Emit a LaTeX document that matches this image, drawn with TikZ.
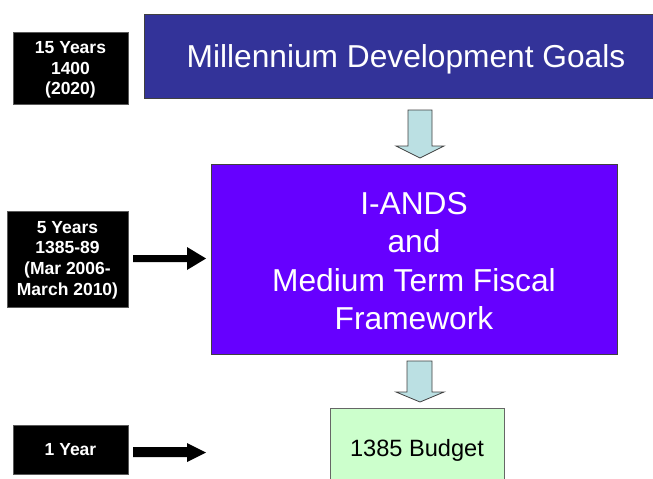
\documentclass[tikz,border=0pt]{standalone}
\usepackage{fontspec}
\setmainfont{Liberation Sans}
\definecolor{mdgblue}{HTML}{333399}
\definecolor{violetbox}{HTML}{6600FF}
\definecolor{greenbox}{HTML}{CCFFCC}
\definecolor{arrowblue}{HTML}{BBE0E3}
\definecolor{edgegray}{HTML}{404040}
\begin{document}
\begin{tikzpicture}[x=1pt,y=-1pt,
  yearbox/.style={fill=black, draw=gray!70!black, line width=0.6pt, inner sep=0pt},
  yeartext/.style={text=white, align=center, inner sep=0pt, font=\fontsize{17.5}{20.7}\selectfont\bfseries},
  bigbox/.style={draw=edgegray, line width=1pt, align=center, inner sep=0pt, text=white},
  blockarrow/.style={fill=arrowblue, draw=edgegray, line width=0.8pt, line join=miter},
  blackarrow/.style={fill=black, draw=none}]
\useasboundingbox (0,0) rectangle (653,479);
\clip (0,0) rectangle (653,479);
% year boxes
\node[yearbox, minimum width=115, minimum height=72] (y15) at (70.5,68) {};
\node[yeartext, yshift=-2pt] (t15) at (y15.center) {15 Years\\1400\\(2020)};
\node[yearbox, minimum width=121, minimum height=96] (y5) at (67.5,259) {};
\node[yeartext, yshift=-1pt] (t5) at (y5.center) {5 Years\\1385-89\\(Mar 2006-\\March 2010)};
\node[yearbox, minimum width=115, minimum height=49] (y1) at (70.5,449.5) {};
\node[yeartext, text height=12.5pt, text depth=0pt] (t1) at (y1.center) {1 Year};
% main boxes
\node[bigbox, fill=mdgblue, minimum width=523, minimum height=84, anchor=west,
  font=\fontsize{31.7}{38}\selectfont, text height=22.7pt, text depth=0pt] (mdg) at (144,56) {Millennium Development Goals};
\node[bigbox, fill=violetbox, minimum width=406, minimum height=190] (iands) at (414,259) {};
\node[bigbox, draw=none, yshift=-2pt, font=\fontsize{31.7}{38.3}\selectfont] (iandst) at (iands.center) {I-ANDS\\and\\Medium Term Fiscal\\Framework};
\node[bigbox, draw=gray!80!black, fill=greenbox, text=black, minimum width=174, minimum height=80,
  font=\fontsize{23.6}{28}\selectfont, text height=16.9pt, text depth=0pt] (budget) at (417,448) {1385 Budget};
% block arrows (down)
\draw[blockarrow] (408,110) -- (432,110) -- (432,146) -- (444,146) -- (420,158) -- (396,146) -- (408,146) -- cycle;
\draw[blockarrow] (407,361) -- (432,361) -- (432,392) -- (444,392) -- (420,402) -- (396,392) -- (407,392) -- cycle;
% black arrows (right)
\fill[blackarrow] (133,255) -- (187,255) -- (187,247) -- (206,258.5) -- (187,270) -- (187,262) -- (133,262) -- cycle;
\fill[blackarrow] (133,447) -- (187,447) -- (187,443) -- (206,452.5) -- (187,462) -- (187,457) -- (133,457) -- cycle;
\end{tikzpicture}
\end{document}
